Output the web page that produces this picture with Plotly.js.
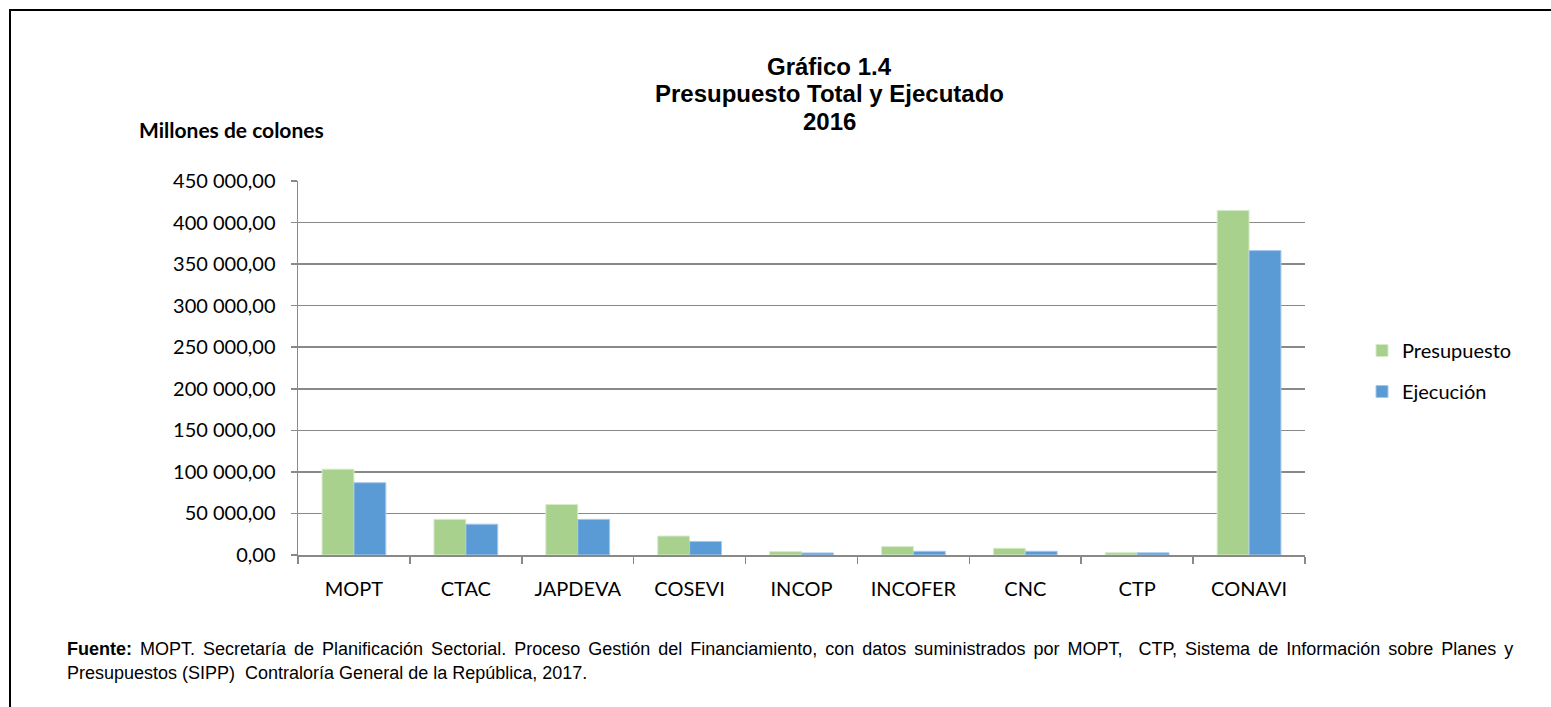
<!DOCTYPE html>
<html>
<head>
<meta charset="utf-8">
<script src="https://cdn.plot.ly/plotly-3.0.1.min.js"></script>
<style>
  html, body { margin: 0; padding: 0; background: #fff; }
  #wrap { position: relative; width: 1551px; height: 707px; overflow: hidden; }
  #frame { position: absolute; left: 9px; top: 9px; width: 1600px; height: 800px;
           border-left: 2px solid #000; border-top: 2px solid #000; pointer-events: none; z-index: 5; }
  #chart { position: absolute; left: 0; top: 0; width: 1551px; height: 707px; }
</style>
</head>
<body>
<div id="wrap">
  <div id="chart"></div>
  <div id="frame"></div>
</div>
<script>
const categories = ['MOPT', 'CTAC', 'JAPDEVA', 'COSEVI', 'INCOP', 'INCOFER', 'CNC', 'CTP', 'CONAVI'];
const presupuesto = [103300, 42900, 60800, 22800, 4100, 10200, 8100, 2800, 414600];
const ejecucion = [87000, 37100, 42900, 16300, 2500, 4500, 4500, 2600, 366300];
const yTickVals = [0, 50000, 100000, 150000, 200000, 250000, 300000, 350000, 400000, 450000];
const yTickText = ['0,00', '50 000,00', '100 000,00', '150 000,00', '200 000,00', '250 000,00',
                   '300 000,00', '350 000,00', '400 000,00', '450 000,00'];
const seriesNames = ['Presupuesto', 'Ejecución'];
const titleLines = ['Gráfico 1.4', 'Presupuesto Total y Ejecutado', '2016'];
const unitLabel = 'Millones de colones';
const sourceLines = [
  '<b>Fuente:</b> MOPT. Secretaría de Planificación Sectorial. Proceso Gestión del Financiamiento, con datos suministrados por MOPT,  CTP, Sistema de Información sobre Planes y',
  'Presupuestos (SIPP)  Contraloría General de la República, 2017.'
];

const W = 1551, H = 707;
const L = 298, R = 1305, T = 181, B = 555;
const px = (x) => (x - L) / (R - L);
const py = (y) => (B - y) / (B - T);
const tickFont = { family: 'Lato, "Open Sans", sans-serif', size: 20, color: '#000' };
const titleFont = { family: '"Liberation Sans", Arial, sans-serif', size: 24, color: '#000' };
const srcFont = { family: '"Liberation Sans", Arial, sans-serif', size: 18, color: '#000' };

const traces = [
  { type: 'bar', name: seriesNames[0], x: categories, y: presupuesto,
    marker: { color: '#A9D18E', line: { color: '#D6EBC8', width: 1 } },
    legendgroup: 'a' },
  { type: 'bar', name: seriesNames[1], x: categories, y: ejecucion,
    marker: { color: '#5B9BD5', line: { color: '#A7C8EA', width: 1 } },
    legendgroup: 'b' }
];

const titleY = [67, 94, 121];
const annotations = titleLines.map((t, i) => ({
  text: '<b>' + t + '</b>', xref: 'paper', yref: 'paper',
  x: px(829), y: py(titleY[i]), xanchor: 'center', yanchor: 'middle',
  showarrow: false, font: titleFont
}));
annotations.push({
  text: '<b>' + unitLabel + '</b>', xref: 'paper', yref: 'paper',
  x: px(137), y: py(130), xanchor: 'left', yanchor: 'middle',
  showarrow: false, font: { family: 'Lato, "Open Sans", sans-serif', size: 21, color: '#000' }
});
const srcY = [649, 673];
const srcSpacing = ['word-spacing:3px', ''];
sourceLines.forEach((t, i) => annotations.push({
  text: srcSpacing[i] ? '<span style="' + srcSpacing[i] + '">' + t + '</span>' : t,
  xref: 'paper', yref: 'paper',
  x: px(65), y: py(srcY[i]), xanchor: 'left', yanchor: 'middle',
  showarrow: false, font: srcFont
}));

const layout = {
  width: W, height: H,
  margin: { l: L, r: W - R, t: T, b: H - B, pad: 0 },
  paper_bgcolor: '#fff', plot_bgcolor: '#fff',
  barmode: 'group', bargap: 0.43, bargroupgap: 0,
  showlegend: true,
  legend: {
    x: px(1362), xanchor: 'left',
    y: py(371), yanchor: 'middle',
    font: tickFont, traceorder: 'grouped', tracegroupgap: 12,
    bgcolor: 'rgba(0,0,0,0)'
  },
  xaxis: {
    type: 'category',
    showline: true, linecolor: '#898989', linewidth: 1.5,
    ticks: 'outside', tickson: 'boundaries', ticklen: 7, tickcolor: '#898989', tickwidth: 1.5,
    tickfont: tickFont, ticklabelstandoff: 15,
    showgrid: false, zeroline: false, fixedrange: true
  },
  yaxis: {
    range: [0, 450000], tickvals: yTickVals, ticktext: yTickText,
    showline: true, linecolor: '#898989', linewidth: 1.5,
    ticks: 'outside', ticklen: 6, tickcolor: '#898989', tickwidth: 1.5,
    tickfont: tickFont, ticklabelstandoff: 11,
    showgrid: true, gridcolor: '#898989', gridwidth: 1.5,
    zeroline: false, fixedrange: true
  },
  annotations: annotations
};

Plotly.newPlot('chart', traces, layout, { displayModeBar: false, staticPlot: true });
</script>
</body>
</html>
